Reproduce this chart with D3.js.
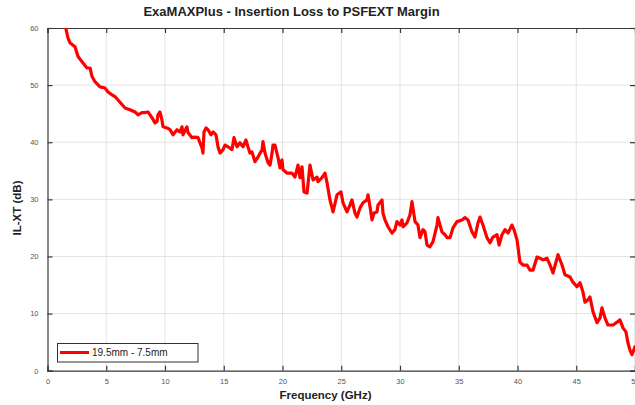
<!DOCTYPE html>
<html>
<head>
<meta charset="utf-8">
<script src="https://cdn.jsdelivr.net/npm/d3@7"></script>
<style>
  html, body { margin: 0; padding: 0; background: #fff; }
  svg { display: block; font-family: "Liberation Sans", Arial, Helvetica, sans-serif; }
</style>
</head>
<body>
<svg id="chart" width="635" height="405"></svg>
<script>
const titleText = "ExaMAXPlus - Insertion Loss to PSFEXT Margin";
const xLabel = "Frequency (GHz)";
const yLabel = "IL-XT (dB)";
const seriesName = "19.5mm - 7.5mm";
const xTicks = [0, 5, 10, 15, 20, 25, 30, 35, 40, 45, 50];
const yTicks = [0, 10, 20, 30, 40, 50, 60];

const freqGHz = [
  1.55, 1.74, 1.91, 2.09, 2.34, 2.60, 2.94, 3.36, 3.62, 3.79, 4.04, 4.47, 4.89, 5.15, 5.49, 5.74, 6.00, 6.34, 6.60, 7.02,
  7.45, 7.70, 8.04, 8.30, 8.55, 8.89, 9.15, 9.32, 9.40, 9.57, 9.74, 9.83, 10.17, 10.43, 10.68, 11.02, 11.28, 11.45, 11.53, 11.87,
  11.96, 12.30, 12.55, 12.81, 13.15, 13.23, 13.32, 13.49, 13.66, 13.91, 14.09, 14.34, 14.51, 14.68, 14.94, 15.11, 15.36, 15.70, 15.87, 16.13,
  16.38, 16.64, 16.89, 17.06, 17.23, 17.40, 17.66, 17.91, 18.26, 18.34, 18.51, 18.77, 18.94, 19.11, 19.19, 19.36, 19.62, 19.79, 19.96, 20.04,
  20.38, 20.81, 21.06, 21.32, 21.49, 21.66, 21.83, 22.09, 22.34, 22.60, 22.94, 23.02, 23.36, 23.62, 23.79, 24.04, 24.30, 24.64, 24.98, 25.15,
  25.49, 25.74, 25.91, 26.17, 26.34, 26.60, 26.85, 27.19, 27.28, 27.45, 27.62, 27.79, 28.04, 28.13, 28.47, 28.55, 28.72, 28.98, 29.32, 29.57,
  29.74, 30.00, 30.17, 30.26, 30.60, 30.85, 31.02, 31.28, 31.53, 31.70, 31.96, 32.13, 32.30, 32.55, 32.81, 33.15, 33.23, 33.57, 33.83, 34.00,
  34.26, 34.51, 34.85, 35.28, 35.53, 35.79, 36.13, 36.38, 36.64, 36.81, 37.06, 37.40, 37.66, 37.91, 38.26, 38.43, 38.68, 38.94, 39.19, 39.53,
  39.70, 39.96, 40.21, 40.47, 40.81, 41.06, 41.32, 41.66, 41.91, 42.17, 42.51, 42.77, 43.02, 43.45, 43.79, 44.04, 44.47, 44.72, 45.06, 45.32,
  45.57, 45.74, 46.00, 46.17, 46.43, 46.77, 47.02, 47.19, 47.45, 47.70, 48.13, 48.47, 48.72, 48.98, 49.23, 49.40, 49.57, 49.74, 50.00
];
const ilxtDb = [
  60.0, 58.3, 57.4, 57.1, 56.7, 55.0, 54.1, 53.0, 53.0, 51.5, 50.6, 49.7, 49.5, 48.8, 48.3, 48.0, 47.4, 46.6, 46.0, 45.7,
  45.3, 44.8, 45.2, 45.2, 45.3, 44.3, 43.4, 43.6, 44.8, 45.3, 43.9, 42.7, 42.5, 42.2, 41.3, 42.2, 41.8, 42.7, 41.3, 42.7,
  41.7, 40.8, 40.9, 40.8, 39.0, 38.1, 41.8, 42.5, 42.2, 41.3, 41.8, 41.3, 39.2, 38.1, 38.7, 39.5, 39.2, 38.7, 40.8, 39.2,
  39.9, 39.2, 40.4, 39.2, 38.1, 38.3, 36.6, 37.4, 38.7, 40.1, 38.1, 36.4, 36.0, 38.1, 39.5, 39.5, 37.3, 35.5, 36.9, 35.2,
  34.6, 34.6, 33.9, 36.0, 33.8, 35.7, 31.3, 31.1, 36.0, 33.4, 33.9, 33.1, 33.8, 34.6, 32.9, 29.9, 27.8, 30.8, 31.3, 29.4,
  27.8, 29.0, 29.9, 27.6, 26.9, 28.5, 29.4, 29.9, 30.8, 28.7, 26.4, 27.6, 27.8, 29.0, 29.9, 27.6, 26.4, 25.2, 24.1, 24.7,
  26.1, 25.5, 26.4, 25.2, 25.9, 27.3, 29.6, 26.1, 25.5, 23.3, 24.7, 24.3, 22.0, 21.7, 22.6, 25.5, 26.8, 24.3, 23.8, 23.3,
  23.3, 25.0, 26.1, 26.4, 26.8, 26.4, 24.3, 23.4, 25.9, 26.9, 25.5, 23.3, 22.4, 23.4, 23.8, 22.0, 23.8, 24.7, 24.1, 25.5,
  24.7, 22.9, 19.0, 18.5, 18.5, 17.6, 17.6, 19.9, 19.7, 19.4, 19.7, 18.5, 17.1, 20.3, 18.5, 16.8, 16.4, 15.5, 14.7, 15.4,
  13.8, 12.0, 12.4, 12.9, 10.3, 8.4, 9.2, 11.0, 9.2, 8.0, 8.0, 8.5, 8.9, 7.5, 6.8, 4.9, 3.6, 2.8, 4.2
];

const data = freqGHz.map((f, i) => ({ f, v: ilxtDb[i] }));

const svg = d3.select("#chart");
const plotLeft = 47.5, plotRight = 635, plotTop = 28, plotBottom = 370.7;

const x = d3.scaleLinear().domain([0, 50]).range([plotLeft, plotRight]);
const y = d3.scaleLinear().domain([0, 60]).range([plotBottom, plotTop]);

const gridColor = "#e3e3e3";
const axisColor = "#3a3a3a";
const tickLabelColor = "#555";

// Grid
svg.append("g").selectAll("line").data(xTicks.slice(1, -1)).join("line")
  .attr("x1", d => x(d)).attr("x2", d => x(d))
  .attr("y1", plotTop).attr("y2", plotBottom)
  .attr("stroke", gridColor).attr("stroke-width", 1);
svg.append("g").selectAll("line").data(yTicks.slice(1, -1)).join("line")
  .attr("x1", plotLeft).attr("x2", plotRight)
  .attr("y1", d => y(d)).attr("y2", d => y(d))
  .attr("stroke", gridColor).attr("stroke-width", 1);

// Axes (MATLAB style, inward ticks)
const tickLen = 5;
const xAxisB = d3.axisBottom(x).tickValues(xTicks).tickSize(-tickLen).tickPadding(8).tickFormat(d3.format("d"));
const xAxisT = d3.axisTop(x).tickValues(xTicks).tickSize(-tickLen).tickFormat("");
const yAxisL = d3.axisLeft(y).tickValues(yTicks).tickSize(-tickLen).tickPadding(9).tickFormat(d3.format("d"));
const yAxisR = d3.axisRight(y).tickValues(yTicks).tickSize(-tickLen).tickFormat("");

function styleAxis(g) {
  g.selectAll("path.domain").attr("stroke", axisColor).attr("stroke-width", 1.2);
  g.selectAll(".tick line").attr("stroke", axisColor).attr("stroke-width", 1.2);
  g.selectAll(".tick text").attr("fill", tickLabelColor).attr("font-size", "7.5px")
    .attr("font-family", "Liberation Sans, Arial, sans-serif");
}
svg.append("g").attr("transform", `translate(0,${plotBottom})`).call(xAxisB).call(styleAxis);
svg.append("g").attr("transform", `translate(0,${plotTop})`).call(xAxisT).call(styleAxis);
svg.append("g").attr("transform", `translate(${plotLeft},0)`).call(yAxisL).call(styleAxis);
svg.append("g").attr("transform", `translate(${plotRight},0)`).call(yAxisR).call(styleAxis);

// Clip
svg.append("clipPath").attr("id", "plotclip").append("rect")
  .attr("x", plotLeft).attr("y", plotTop).attr("width", plotRight - plotLeft).attr("height", plotBottom - plotTop);

// Line
const line = d3.line().x(d => x(d.f)).y(d => y(d.v));
svg.append("path").datum(data)
  .attr("clip-path", "url(#plotclip)")
  .attr("d", line)
  .attr("fill", "none").attr("stroke", "#ff0000").attr("stroke-width", 3.2)
  .attr("stroke-linejoin", "round").attr("stroke-linecap", "round");

// Title
svg.append("text").attr("x", 291.5).attr("y", 15.5).attr("text-anchor", "middle")
  .attr("font-weight", "bold").attr("font-size", "13px").attr("fill", "#222").text(titleText);

// Axis labels
svg.append("text").attr("x", 325.5).attr("y", 398.5).attr("text-anchor", "middle")
  .attr("font-weight", "bold").attr("font-size", "11.5px").attr("fill", "#222").text(xLabel);
svg.append("text").attr("transform", "translate(20.5,208) rotate(-90)").attr("text-anchor", "middle")
  .attr("font-weight", "bold").attr("font-size", "11.5px").attr("fill", "#222").text(yLabel);

// Legend
const lg = svg.append("g");
lg.append("rect").attr("x", 57.5).attr("y", 343.5).attr("width", 140.5).attr("height", 18.5)
  .attr("fill", "#fff").attr("stroke", "#333").attr("stroke-width", 1);
lg.append("line").attr("x1", 60).attr("x2", 89).attr("y1", 352.5).attr("y2", 352.5)
  .attr("stroke", "#ff0000").attr("stroke-width", 3);
lg.append("text").attr("x", 92).attr("y", 356).attr("font-size", "10px").attr("fill", "#222").text(seriesName);
</script>
</body>
</html>
